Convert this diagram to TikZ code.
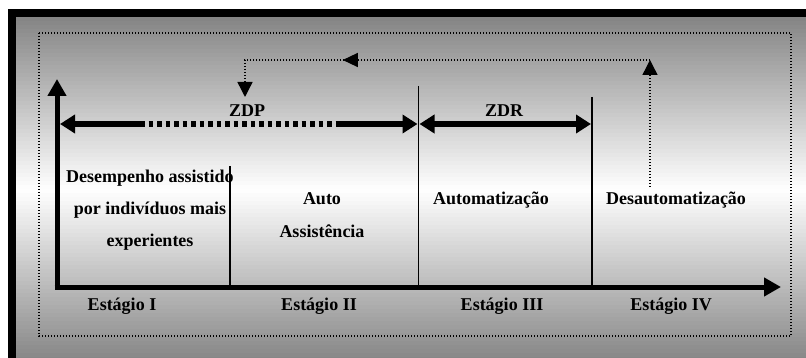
\documentclass[tikz,border=0pt]{standalone}
\usepackage{fontspec}
\setmainfont{Liberation Serif}
\usepackage{tikz}
\usetikzlibrary{arrows.meta, decorations.markings}
\tikzset{
  lbl/.style={font=\bfseries\fontsize{18}{32}\selectfont, inner sep=0pt, align=center, anchor=base},
  axis/.style={line width=5pt, -{Triangle[length=17pt,width=18pt]}},
  span/.style={line width=6pt},
  divider/.style={line width=1.6pt},
  dots/.style={line width=1.4pt, dash pattern=on 1.4pt off 1.6pt},
  tip/.style={-{Triangle[length=15pt,width=15pt]}}
}

\begin{document}
\begin{tikzpicture}[x=1pt, y=-1pt]
        % Frame and background
        \useasboundingbox (0,0) rectangle (806,358);
        \fill[white] (0,0) rectangle (806,358);
        \fill[black] (8,9) rectangle (806,358);
        \foreach \i in {0,...,85} {
          \pgfmathsetmacro{\yy}{17+4*\i}
          \pgfmathsetmacro{\ye}{min(\yy+4.4,358)}
          \pgfmathsetmacro{\pct}{48*abs(\yy+2-190)/172}
          \fill[black!\pct] (16,\yy) rectangle (806,\ye);
        }
        \draw[dots] (39,33) rectangle (791,336);

        % Define the positions of the points
        \coordinate (o) at (57,287);
        \coordinate (ytop) at (57,79);
        \coordinate (xend) at (781,287);
        \coordinate (d1t) at (230,166);
        \coordinate (d1b) at (230,287);
        \coordinate (d2t) at (418.5,86);
        \coordinate (d2b) at (418.5,287);
        \coordinate (d3t) at (592,97);
        \coordinate (d3b) at (592,287);
        \coordinate (zl) at (60,124);
        \coordinate (za) at (140,124);
        \coordinate (zb) at (340,124);
        \coordinate (zr) at (417.5,124);
        \coordinate (rl) at (419.5,124);
        \coordinate (rr) at (591,124);
        \coordinate (f1) at (650,187);
        \coordinate (f2) at (650,60);
        \coordinate (f3) at (245,60);
        \coordinate (f4) at (245,97);

        % Stage dividers
        \foreach \top/\bot in {d1t/d1b, d2t/d2b, d3t/d3b}
          \draw[divider] (\top) -- (\bot);

        % Axes
        \draw[axis] (o) -- (ytop);
        \draw[axis] ([xshift=-2.5pt]o) -- (xend);

        % Zones
        \draw[span, {Triangle[length=15pt,width=18pt]}-] (zl) -- (za);
        \draw[span, dash pattern=on 4.5pt off 4pt] (za) -- (zb);
        \draw[span, -{Triangle[length=15pt,width=18pt]}] (zb) -- (zr);
        \draw[span, {Triangle[length=15pt,width=18pt]}-{Triangle[length=15pt,width=18pt]}] (rl) -- (rr);
        \node[lbl] (zdp) at (247,117) {ZDP};
        \node[lbl] (zdr) at (504,117) {ZDR};

        % Feedback loop
        \draw[dots, tip] (f1) -- (f2);
        \draw[dots, tip, postaction={decorate},
          decoration={markings, mark=at position 0.695 with {\arrow{Triangle[length=15pt,width=14pt]}}}]
          (f2) -- (f3) -- (f4);

        % Stage contents (base = last line)
        \node[lbl] (s1) at (150,247) {Desempenho assistido\\por indivíduos mais\\experientes};
        \node[lbl, font=\bfseries\fontsize{18}{33}\selectfont] (s2) at (322,238) {Auto\\Assistência};
        \node[lbl] (s3) at (491,205) {Automatização};
        \node[lbl] (s4) at (676,205) {Desautomatização};

        % Stage names
        \node[lbl] (e1) at (122,310) {Estágio I};
        \node[lbl] (e2) at (319,310) {Estágio II};
        \node[lbl] (e3) at (502,310) {Estágio III};
        \node[lbl] (e4) at (671,310) {Estágio IV};
    \end{tikzpicture}
\end{document}
